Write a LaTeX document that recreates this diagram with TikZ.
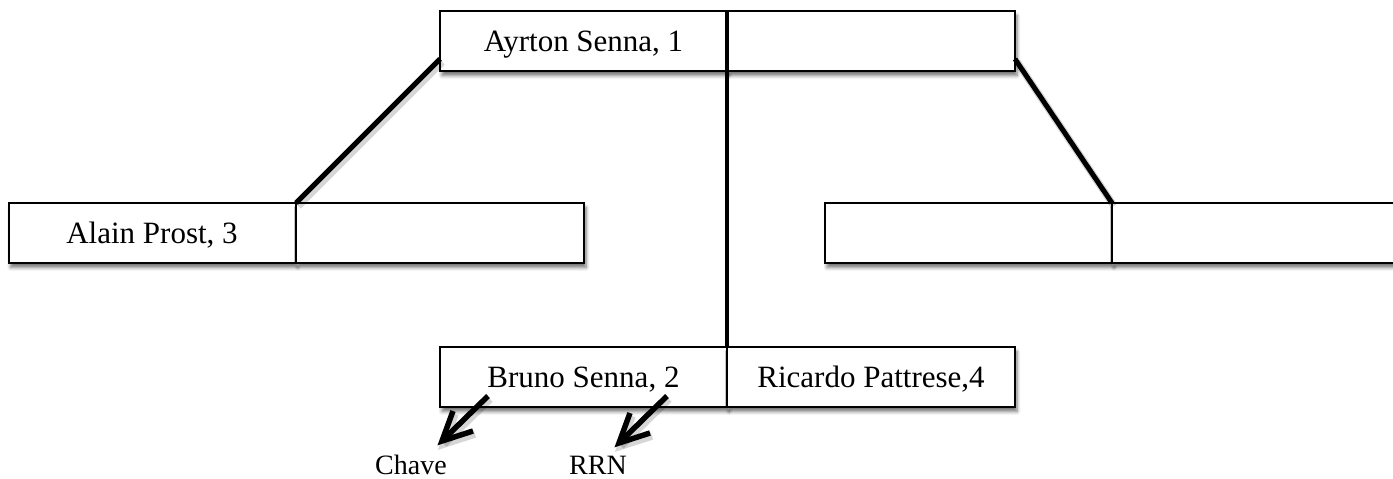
\documentclass[tikz,border=0pt]{standalone}
\usepackage{fontspec}
\setmainfont{Liberation Serif}
\usetikzlibrary{shadows.blur}

\begin{document}
\begin{tikzpicture}[x=1pt,y=-1pt,
  cell/.style={draw=black, line width=2pt, fill=white,
    minimum height=60pt, inner sep=0pt, outer sep=0pt,
    text height=20pt, text depth=0pt,
    font=\fontsize{31}{36}\selectfont,
    blur shadow={shadow xshift=2pt, shadow yshift=-4.5pt,
      shadow blur radius=3.5pt, shadow blur steps=6, shadow opacity=55}},
  lcell/.style={cell, minimum width=287pt},
  rcell/.style={cell, minimum width=288pt},
  soft/.style={preaction={draw=black, opacity=0.16, line width=7.5pt,
      transform canvas={shift={(2pt,-3pt)}}}},
  link/.style={line width=5pt, draw=black, soft},
  spine/.style={line width=4pt, draw=black},
  pointer/.style={line width=5.5pt, draw=black, soft},
  barb/.style={line width=5.5pt, draw=black, miter limit=6, soft},
  lbl/.style={inner sep=0pt, anchor=base, font=\fontsize{28}{32}\selectfont}]

\useasboundingbox (0,0) rectangle (1393,479);

% root page
\node[lcell] (tl) at (583.5,41) {Ayrton Senna, 1};
\node[rcell] (tr) at (871,41) {};

% left child page
\node[lcell] (ml1) at (152,233) {Alain Prost, 3};
\node[rcell] (ml2) at (440,233) {};

% right child page
\node[lcell] (mr1) at (968.5,233) {};
\node[rcell] (mr2) at (1256,233) {};

% middle child page
\node[lcell] (bl) at (583.5,377) {Bruno Senna, 2};
\node[rcell] (br) at (871,377) {Ricardo Pattrese,4};

% child pointers
\draw[spine] (tl.north east) -- (bl.north east);
\draw[link] ([yshift=12pt]tl.south west) -- (ml2.north west);
\draw[link] ([yshift=12pt]tr.south east) -- (mr2.north west);

% field annotations: shafts with open V heads
\coordinate (ks) at (488,396);
\coordinate (kt) at (442,441);
\coordinate (rs) at (667,396);
\coordinate (rt) at (619,443);
\draw[pointer] (ks) -- (kt);
\draw[pointer] (rs) -- (rt);
\draw[barb] (kt) ++(11,-30) -- (kt) -- ++(31,-10);
\draw[barb] (rt) ++(11,-30) -- (rt) -- ++(31,-10);
\node[lbl] (chave) at (411,474) {Chave};
\node[lbl] (rrn) at (598,474) {RRN};

\end{tikzpicture}
\end{document}
